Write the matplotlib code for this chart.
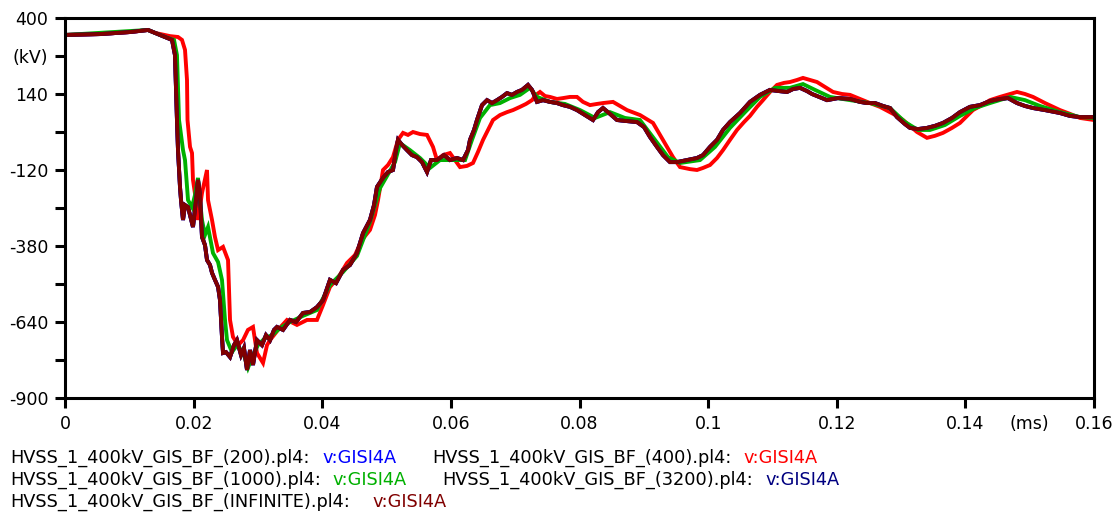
import numpy as np
import matplotlib.pyplot as plt

# traces (time in ms, voltage in kV)
t_inf = [0, 0.00544, 0.01011, 0.0129, 0.0140, 0.01555, 0.01664, 0.0171, 0.01726, 0.01741,
         0.01757, 0.01773, 0.01788, 0.01804, 0.01835, 0.01866, 0.01913, 0.01944, 0.0199, 0.02037,
         0.02068, 0.02099, 0.0213, 0.02177, 0.02208, 0.02255, 0.02286, 0.02332, 0.0238, 0.0241,
         0.02441, 0.02457, 0.02503, 0.02566, 0.02628, 0.02674, 0.02737, 0.02783, 0.0283, 0.02877,
         0.02923, 0.02985, 0.03063, 0.03125, 0.03188, 0.0325, 0.03296, 0.0339, 0.03499, 0.03592,
         0.03701, 0.0381, 0.03918, 0.04012, 0.0412, 0.04214, 0.04323, 0.04431, 0.0454, 0.04634,
         0.04742, 0.04805, 0.04851, 0.04945, 0.05022, 0.051, 0.05147, 0.05178, 0.0524, 0.05318,
         0.05395, 0.05473, 0.05551, 0.05629, 0.05691, 0.05784, 0.05893, 0.05986, 0.06095, 0.06189,
         0.06266, 0.06297, 0.0636, 0.06406, 0.06484, 0.06562, 0.0664, 0.06717, 0.06795, 0.06873,
         0.0695, 0.07028, 0.07106, 0.07199, 0.07262, 0.07339, 0.07433, 0.07541, 0.0765, 0.07743,
         0.07852, 0.07961, 0.08085, 0.0821, 0.08288, 0.08365, 0.08474, 0.08583, 0.08707, 0.08894,
         0.09003, 0.09096, 0.09205, 0.09298, 0.09407, 0.09516, 0.09672, 0.09827, 0.0992, 0.10029,
         0.10138, 0.10231, 0.1034, 0.10496, 0.10651, 0.10807, 0.10962, 0.11102, 0.11227, 0.1132,
         0.11429, 0.11538, 0.11615, 0.11693, 0.11849, 0.12019, 0.12206, 0.12362, 0.1247, 0.12595,
         0.12719, 0.12828, 0.12937, 0.13061, 0.13139, 0.13263, 0.13403, 0.13528, 0.13652, 0.13792,
         0.13916, 0.14071, 0.14227, 0.14383, 0.14538, 0.14663, 0.14803, 0.14927, 0.15052, 0.15238,
         0.15471, 0.15627, 0.15783, 0.16]
v_inf = [342, 345, 352, 359, 349, 335, 325, 273, 154, 51,
         -52, -120, -178, -223, -291, -240, -247, -274, -315, -223,
         -154, -206, -349, -377, -428, -445, -472, -496, -520, -565,
         -691, -746, -743, -760, -719, -702, -753, -729, -804, -736,
         -787, -702, -719, -685, -702, -667, -657, -667, -633, -640,
         -609, -606, -589, -565, -496, -507, -462, -445, -404, -336,
         -291, -240, -178, -147, -127, -120, -52, -17, -34, -52,
         -69, -76, -93, -127, -86, -86, -69, -86, -79, -86,
         -52, -17, 17, 51, 102, 119, 109, 119, 130, 143,
         137, 147, 154, 171, 154, 113, 119, 113, 109, 102,
         96, 85, 68, 51, 78, 92, 72, 51, 48, 44,
         27, -7, -41, -69, -93, -93, -86, -79, -69, -41,
         -17, 17, 44, 75, 113, 137, 154, 150, 147, 157,
         161, 150, 140, 133, 119, 126, 123, 113, 109, 109,
         99, 92, 61, 37, 24, 20, 24, 31, 41, 58,
         78, 96, 102, 116, 123, 126, 109, 99, 92, 85,
         75, 65, 61, 61]

t_400 = [0, 0.00544, 0.01011, 0.0129, 0.0140, 0.01633, 0.01757, 0.01819, 0.01866, 0.01897,
         0.01905, 0.01944, 0.01975, 0.0199, 0.02052, 0.02068, 0.0213, 0.02208, 0.02224, 0.02286,
         0.02332, 0.0238, 0.02457, 0.02535, 0.02566, 0.02612, 0.0269, 0.02768, 0.02845, 0.02923,
         0.02985, 0.03079, 0.03141, 0.03188, 0.03312, 0.03452, 0.03607, 0.03763, 0.03918, 0.04012,
         0.0412, 0.04245, 0.04385, 0.04509, 0.04618, 0.04742, 0.0482, 0.04867, 0.04945, 0.05022,
         0.051, 0.05178, 0.05256, 0.05333, 0.05411, 0.0552, 0.05629, 0.05722, 0.05784, 0.05878,
         0.05986, 0.06064, 0.06142, 0.06251, 0.06344, 0.06422, 0.065, 0.06577, 0.06655, 0.06764,
         0.06873, 0.06966, 0.07075, 0.07168, 0.07262, 0.07324, 0.07386, 0.07464, 0.07541, 0.0765,
         0.07743, 0.07852, 0.07961, 0.08054, 0.08163, 0.08272, 0.08365, 0.08521, 0.0863, 0.08739,
         0.08941, 0.09143, 0.09252, 0.09361, 0.09454, 0.09563, 0.09718, 0.09827, 0.0992, 0.10029,
         0.10138, 0.10231, 0.1034, 0.10449, 0.10558, 0.10651, 0.1076, 0.10853, 0.10962, 0.11071,
         0.1118, 0.11273, 0.11382, 0.11475, 0.11584, 0.11693, 0.11817, 0.11942, 0.12082, 0.12206,
         0.12362, 0.12517, 0.12672, 0.12828, 0.12937, 0.1303, 0.13139, 0.13248, 0.13403, 0.13528,
         0.13652, 0.13792, 0.13916, 0.14025, 0.14118, 0.14258, 0.14383, 0.14538, 0.14694, 0.14803,
         0.14927, 0.15052, 0.15238, 0.15471, 0.15627, 0.15783, 0.16]
v_400 = [342, 345, 352, 359, 349, 338, 335, 325, 291, 188,
         51, -41, -62, -154, -247, -291, -199, -120, -223, -291,
         -349, -394, -383, -428, -633, -691, -719, -702, -667, -657,
         -746, -780, -719, -702, -667, -633, -650, -633, -633, -582,
         -520, -489, -438, -411, -359, -325, -274, -223, -120, -103,
         -76, -17, 7, 0, 10, 3, 0, -41, -86, -69,
         -62, -86, -110, -106, -96, -58, -17, 17, 51, 68,
         78, 85, 96, 106, 119, 137, 147, 133, 130, 123,
         126, 130, 130, 113, 102, 106, 109, 113, 99, 85,
         68, 41, 0, -41, -76, -110, -117, -120, -113, -103,
         -79, -52, -17, 17, 44, 65, 96, 119, 147, 171,
         178, 181, 188, 195, 188, 181, 164, 147, 140, 137,
         123, 109, 96, 78, 65, 51, 31, 10, -10, -3,
         7, 24, 41, 65, 85, 102, 119, 130, 140, 147,
         140, 130, 109, 85, 72, 58, 51]

t_1000 = [0, 0.0129, 0.01555, 0.01695, 0.01741, 0.01773, 0.01788, 0.01835, 0.01866, 0.01913,
          0.01975, 0.02021, 0.02068, 0.02099, 0.0213, 0.02177, 0.02224, 0.02301, 0.0238, 0.02441,
          0.02488, 0.02519, 0.02597, 0.02674, 0.02768, 0.02845, 0.02923, 0.03001, 0.0311, 0.03219,
          0.03343, 0.03499, 0.03701, 0.03918, 0.0412, 0.04323, 0.0454, 0.04742, 0.04898, 0.05131,
          0.05209, 0.05364, 0.0552, 0.05675, 0.05831, 0.06064, 0.0622, 0.06328, 0.06453, 0.06608,
          0.06764, 0.06919, 0.07075, 0.0723, 0.07339, 0.07541, 0.07774, 0.08008, 0.08241, 0.08474,
          0.08707, 0.0894, 0.09174, 0.09376, 0.09563, 0.09874, 0.10107, 0.1034, 0.10574, 0.10807,
          0.1104, 0.11273, 0.11475, 0.11662, 0.11895, 0.12206, 0.12517, 0.12828, 0.13061, 0.13263,
          0.1345, 0.13683, 0.13916, 0.1415, 0.14383, 0.14694, 0.14927, 0.1516, 0.15471, 0.15783,
          0.16]
v_1000 = [342, 359, 335, 325, 273, 51, 27, -52, -86, -223,
          -247, -206, -147, -223, -291, -342, -315, -404, -435, -496,
          -633, -702, -743, -719, -743, -797, -753, -719, -695, -685,
          -661, -640, -619, -599, -513, -469, -414, -298, -182, -93,
          -28, -52, -79, -113, -86, -86, -86, -17, 58, 102,
          109, 126, 137, 161, 130, 113, 106, 85, 58, 78,
          58, 51, -17, -76, -96, -86, -41, 24, 78, 130,
          161, 161, 174, 154, 130, 119, 109, 92, 44, 17,
          17, 34, 65, 92, 109, 130, 119, 99, 78, 61,
          58]

# 200 and 3200 traces coincide with the INFINITE trace in the picture
t_200, v_200 = t_inf, v_inf
t_3200, v_3200 = t_inf, v_inf

yticks = [-900, -770, -640, -510, -380, -250, -120, 10, 140, 270, 400]
ytick_labels = ['-900', '', '-640', '', '-380', '', '-120', '', '140', '(kV)', '400']
xticks = [0, 0.02, 0.04, 0.06, 0.08, 0.1, 0.12, 0.14, 0.16]
xtick_labels = ['0', '0.02', '0.04', '0.06', '0.08', '0.1', '0.12', '0.14', '0.16']

files = ['HVSS_1_400kV_GIS_BF_(200).pl4:', 'HVSS_1_400kV_GIS_BF_(400).pl4:',
         'HVSS_1_400kV_GIS_BF_(1000).pl4:', 'HVSS_1_400kV_GIS_BF_(3200).pl4:',
         'HVSS_1_400kV_GIS_BF_(INFINITE).pl4:']
colors = ['#0000ff', '#ff0000', '#00b000', '#000080', '#800000']

plt.rcParams['font.family'] = 'DejaVu Sans'
fig = plt.figure(figsize=(11.16, 5.15), dpi=100)
ax = fig.add_axes([65 / 1116, 1 - 398 / 515, (1094 - 65) / 1116, (398 - 18) / 515])

series = [(t_200, v_200), (t_400, v_400), (t_1000, v_1000), (t_3200, v_3200), (t_inf, v_inf)]
for (t, v), c in zip(series, colors):
    ax.plot(t, v, color=c, lw=2.8, solid_joinstyle='miter')

ax.set_xlim(0, 0.16)
ax.set_ylim(-900, 400)
ax.set_yticks(yticks)
ax.set_yticklabels(ytick_labels)
ax.set_xticks(xticks)
ax.set_xticklabels(xtick_labels)
ax.tick_params(length=7, width=2.2, labelsize=12.5, pad=5)
for s in ax.spines.values():
    s.set_linewidth(2.2)
ax.text(0.15, -0.046, '(ms)', transform=ax.get_xaxis_transform(), ha='center', va='top', fontsize=12.5)

# legend lines below the plot (baselines in pixels)
rows = [(10, 463, files[0], 322, colors[0]), (432, 463, files[1], 743, colors[1]),
        (10, 485, files[2], 332, colors[2]), (442, 485, files[3], 765, colors[3]),
        (10, 507, files[4], 372, colors[4])]
for x0, y0, name, xv, c in rows:
    fig.text(x0 / 1116, 1 - y0 / 515, name, fontsize=12.8, va='baseline', ha='left')
    fig.text(xv / 1116, 1 - y0 / 515, 'v:GISI4A', fontsize=12.8, va='baseline', ha='left', color=c)

fig.savefig('out.png', dpi=100)
